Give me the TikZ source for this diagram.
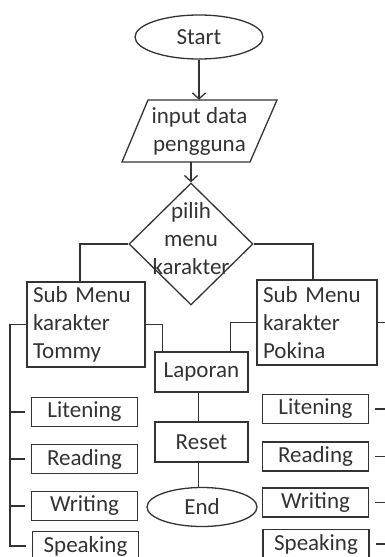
\documentclass[tikz,border=0pt]{standalone}
\usepackage{fontspec}
\setmainfont{Carlito}
\usetikzlibrary{shapes.geometric,arrows.meta}
\definecolor{ink}{HTML}{333333}
\tikzset{
  every node/.style={font=\fontsize{23}{28}\selectfont, text=ink},
  flow/.style={draw=ink, line width=1.3pt},
  arr/.style={flow, -{Straight Barb[length=6pt,width=13pt]}},
  terminal/.style={ellipse, draw=ink, line width=1.3pt, inner sep=0pt},
  box/.style={rectangle, draw=ink, line width=1.3pt, inner sep=0pt, align=center},
  menubox/.style={rectangle, draw=ink, line width=1.3pt, inner xsep=6pt, inner ysep=0pt,
    text width=106pt, align=left, minimum height=85pt},
  itembox/.style={rectangle, draw=ink, line width=1.3pt, inner sep=0pt,
    minimum width=106pt, minimum height=29pt},
  tick/.style={flow, shorten >=6pt},
  rtick/.style={flow, shorten <=6pt},
}
\begin{document}
\begin{tikzpicture}[x=1pt, y=-1pt]
\useasboundingbox (0,0) rectangle (385,557);
\clip (0,0) rectangle (385,557);
\fill[white] (0,0) rectangle (385,557);

% start and input
\node[terminal, minimum width=128pt, minimum height=44pt] (start) at (199,37) {Start};
\node[minimum width=104pt, minimum height=62pt, inner sep=0pt, align=center] (input) at (199.5,131) {input data\\pengguna};
\draw[flow] (148,100) -- (277,100) -- (250,162) -- (122,162) -- cycle;
\draw[arr] (start.south) -- (start.south |- input.north);

% decision
\node[diamond, draw=ink, line width=1.3pt, inner sep=0pt, minimum width=124pt, minimum height=122pt] (dia) at (191,244) {};
\node[align=center, inner sep=0pt] (diatext) at (191,239) {pilih\\menu\\karakter};
\draw[arr] (input.south -| dia.north) -- (dia.north);

% character sub menus
\node[menubox] (tommy) at (86,324.5) {Sub Menu\\karakter\\Tommy};
\node[menubox, text width=108pt] (pokina) at (317,322.5) {Sub Menu\\karakter\\Pokina};
\draw[flow] (dia.west) -| ([xshift=-6pt]tommy.north);
\draw[flow] (dia.east) -| ([xshift=-4pt]pokina.north);

% report, reset, end
\node[box, minimum width=93pt, minimum height=40pt] (laporan) at (201.5,372) {Laporan};
\node[box, minimum width=93pt, minimum height=40pt] (reset) at (201.5,442) {Reset};
\node[terminal, minimum width=110pt, minimum height=39pt] (end) at (202,507) {End};
\draw[flow] (tommy.east) -| ([xshift=8pt]laporan.north west);
\draw[flow] (pokina.west) -| ([xshift=-18pt]laporan.north east);
\draw[flow] ([xshift=-3pt]laporan.south) -- ([xshift=-3pt]reset.north);
\draw[flow] ([xshift=-3pt]reset.south) -- ([xshift=-3pt]reset.south |- end.north);

% skill items, left
\node[itembox] (litL) at (84.5,412) {Litening};
\node[itembox] (readL) at (84.5,459) {Reading};
\node[itembox] (writL) at (84.5,506) {Writing};
\node[itembox] (speakL) at (85.5,546) {Speaking};
\coordinate (lspine) at (10,0);
\draw[tick] (tommy.west) -- (tommy.west -| lspine) -- (speakL.west -| lspine) -- (speakL.west);
\draw[tick] (litL.west -| lspine) -- (litL.west);
\draw[tick] (readL.west -| lspine) -- (readL.west);
\draw[tick] (writL.west -| lspine) -- (writL.west);

% skill items, right
\node[itembox] (litR) at (315.5,409) {Litening};
\node[itembox] (readR) at (315.5,456.5) {Reading};
\node[itembox] (writR) at (315.5,502.5) {Writing};
\node[itembox] (speakR) at (316,544) {Speaking};
\coordinate (rspine) at (387,0);
\draw[flow] (pokina.east) -- (pokina.east -| rspine) -- (speakR.east -| rspine);
\draw[rtick] (litR.east) -- (litR.east -| rspine);
\draw[rtick] (readR.east) -- (readR.east -| rspine);
\draw[rtick] (writR.east) -- (writR.east -| rspine);
\draw[rtick] (speakR.east) -- (speakR.east -| rspine);
\end{tikzpicture}
\end{document}
